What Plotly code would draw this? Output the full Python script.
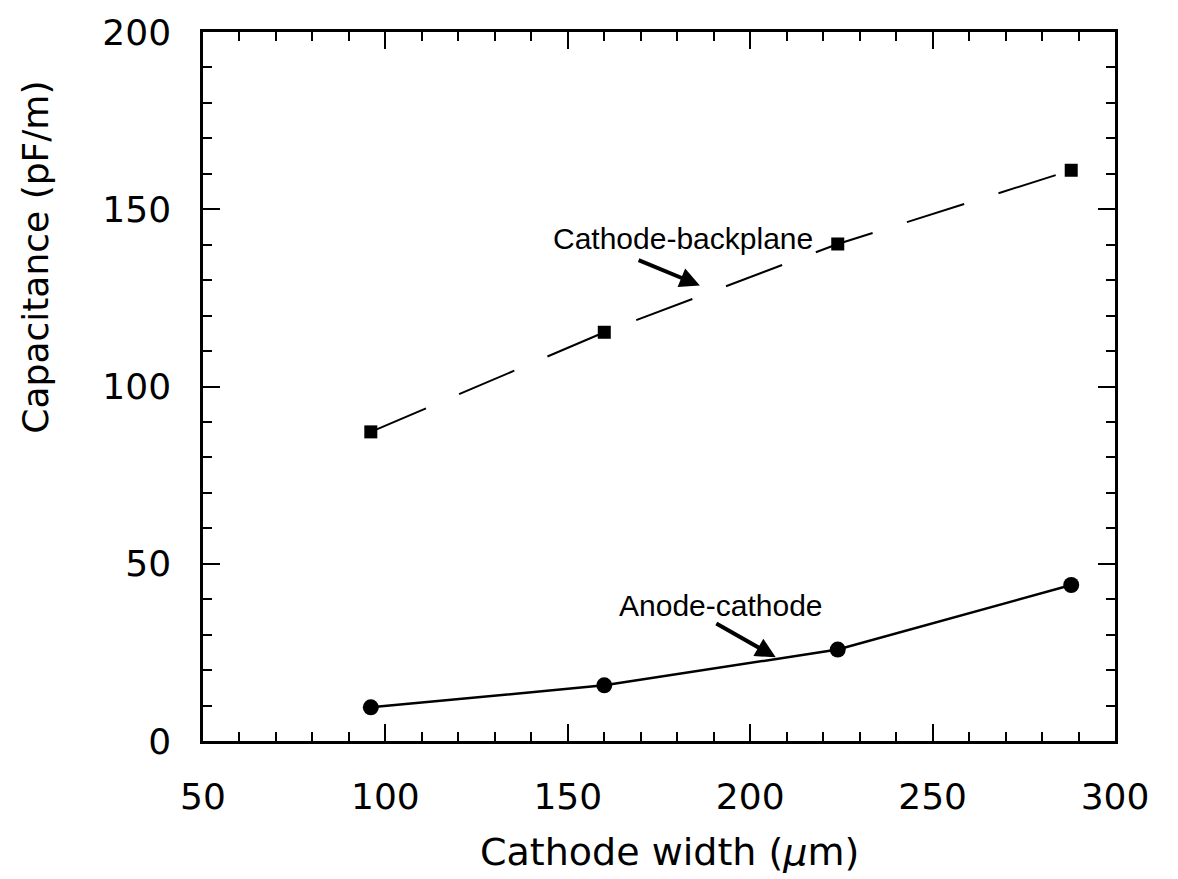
import plotly.graph_objects as go

# Cathode width (um) and measured capacitances (pF/m)
cathode_width = [96, 160, 224, 288]
cathode_backplane = [87.2, 115.3, 140.2, 161.0]
anode_cathode = [9.5, 15.7, 25.8, 44.0]

fig = go.Figure()

fig.add_trace(go.Scatter(
    x=cathode_width, y=cathode_backplane, mode="lines+markers",
    line=dict(color="black", width=2, dash="60px,36px"),
    marker=dict(symbol="square", size=13, color="black"),
    showlegend=False,
))
fig.add_trace(go.Scatter(
    x=cathode_width, y=anode_cathode, mode="lines+markers",
    line=dict(color="black", width=2.5),
    marker=dict(symbol="circle", size=16, color="black"),
    showlegend=False,
))

ann_font = dict(family="Liberation Sans", size=30, color="black")

# Curve labels with pointer arrows
fig.add_annotation(x=186.2, y=128.5, ax=169, ay=135.8, xref="x", yref="y",
                   axref="x", ayref="y", text="", showarrow=True,
                   arrowhead=2, arrowsize=1, arrowwidth=4, arrowcolor="black")
fig.add_annotation(x=181.7, y=141.7, text="Cathode-backplane", showarrow=False,
                   font=ann_font, xanchor="center", yanchor="middle")
fig.add_annotation(x=207.0, y=23.6, ax=190.3, ay=33.4, xref="x", yref="y",
                   axref="x", ayref="y", text="", showarrow=True,
                   arrowhead=2, arrowsize=1, arrowwidth=4, arrowcolor="black")
fig.add_annotation(x=192.1, y=38.2, text="Anode-cathode", showarrow=False,
                   font=ann_font, xanchor="center", yanchor="middle")

# Axis titles
fig.add_annotation(xref="paper", yref="paper", x=-0.184, y=0.682,
                   text="Capacitance (pF/m)", textangle=-90, showarrow=False,
                   font=dict(family="DejaVu Sans", size=36, color="black"),
                   xanchor="center", yanchor="middle")
fig.add_annotation(xref="paper", yref="paper", x=0.512, y=-0.156,
                   text="Cathode width (<i>μ</i>m)", showarrow=False,
                   font=dict(family="DejaVu Sans", size=38, color="black"),
                   xanchor="center", yanchor="middle")

axis_common = dict(
    showgrid=False, zeroline=False, showline=True, linecolor="black",
    linewidth=2.5, mirror="ticks", ticks="inside", ticklen=17, tickwidth=2,
    tickcolor="black", ticklabelstandoff=22,
    tickfont=dict(family="DejaVu Sans", size=36, color="black"),
)

fig.update_xaxes(
    range=[50, 300], dtick=50, tick0=50,
    minor=dict(dtick=10, ticks="inside", ticklen=9, tickwidth=1.5, tickcolor="black"),
    **axis_common,
)
fig.update_yaxes(
    range=[0, 200], dtick=50, tick0=0,
    minor=dict(dtick=10, ticks="inside", ticklen=9, tickwidth=1.5, tickcolor="black"),
    **axis_common,
)

fig.update_layout(
    width=1178, height=879,
    margin=dict(l=203, r=63, t=28, b=138),
    paper_bgcolor="white", plot_bgcolor="white",
)

fig.write_html("out.html")
